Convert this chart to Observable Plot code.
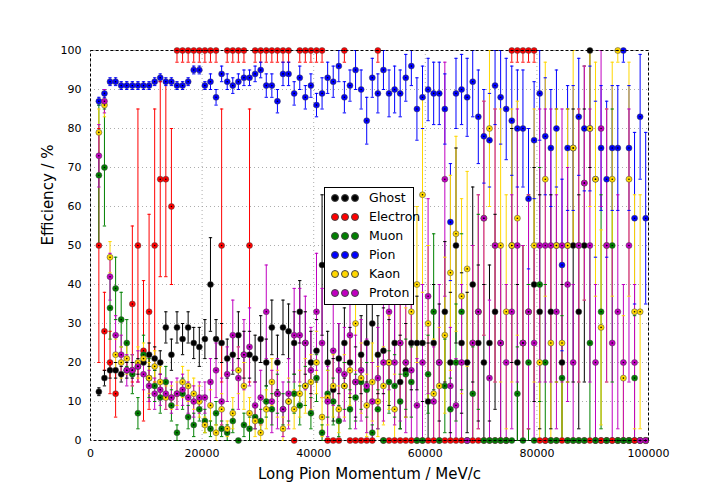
<!DOCTYPE html><html><head><meta charset="utf-8">
<script src="https://cdn.jsdelivr.net/npm/d3@7"></script>
<script src="https://cdn.jsdelivr.net/npm/@observablehq/plot@0.6"></script>
<style>body{margin:0;background:#fff;font-family:"DejaVu Sans",sans-serif}#w{position:relative;width:720px;height:504px}
#leg{position:absolute;left:324px;top:187px;width:88px;height:116px;border:1px solid #000;background:#fff;font-size:12.5px}
#leg div{height:19px;line-height:19px;display:flex;align-items:center}#leg span.d{flex:0 0 6px;display:inline-block;width:6px;height:6px;border-radius:50%;border:0.5px solid #444}
</style></head><body><div id="w"></div>
<script>
const binStart = 1500, binWidth = 1000;
const xTicks = [0,20000,40000,60000,80000,100000];
const yTicks = [0,10,20,30,40,50,60,70,80,90,100];
const seriesNames = ["Ghost","Electron","Muon","Pion","Kaon","Proton"];
const colors = ["#000000","#ff0000","#008000","#0000ff","#ffd700","#c000c0"];
const ghost = [12.5,16,18,18,17,18,18,19,20,22,21,20,29,22,29,26,29,25,24,26,40,26,25,21,22,27,22,22,21,26,20,29,20,29,28,25,33,25,20,23,45,20,13,21,25,20,15,22,25,30,22,23,20,25,15,18,25,25,25,10,25,20,33,20,50,25,20,40,25,20,25,33,25,0,50,20,25,33,40,33,0,33,50,20,50,50,33,50,100,0,0,0,0,0,0,0,0,0,0];
const ghostErr = [1,2,2,2,2,2,2,2,3,3,3,3,4,4,4,4,4,4,5,5,12,5,5,5,5,6,6,6,6,6,6,7,7,7,7,8,8,8,8,8,18,8,8,9,9,9,9,10,10,10,10,11,11,11,12,12,12,12,15,15,15,15,18,18,25,18,18,25,20,20,20,25,25,0,30,20,25,30,30,30,0,30,35,20,35,35,30,35,30,0,0,0,0,0,0,0,0,0,0];
const electron = [50,28,20,12,null,null,35,50,23,33,50,67,67,60,100,100,100,100,100,100,100,100,50,100,100,100,100,50,100,100,100,100,100,100,100,0,100,100,100,100,100,0,0,0,100,0,0,0,0,0,100,0,0,0,0,0,0,0,0,0,0,0,0,0,0,0,0,0,0,0,0,0,0,0,100,100,100,100,100,0,0,0,0,0,0,0,0,0,0,0,0,0,0,0,0,0,0,0,0];
const electronErr = [30,10,8,6,0,0,20,35,18,25,35,25,25,20,3,3,3,3,3,3,3,3,35,3,3,3,3,35,3,3,3,3,3,3,3,0,3,3,3,3,3,0,0,0,3,0,0,0,0,0,3,0,0,0,0,0,0,0,0,0,0,0,0,0,0,0,0,0,0,0,0,0,0,0,3,3,3,3,3,0,0,0,0,0,0,0,0,0,0,0,0,0,0,0,0,0,0,0,0];
const muon = [68,70,34,39,31,25,17,7,22,16,14,11,15,9,2,12,6,4,8,5,3,7,3,2,5,0,4,3,6,5,10,8,12,8,10,12,9,14,7,16,2,12,10,5,14,8,11,15,13,2,8,0,15,14,10,17,15,0,0,17,33,0,14,8,20,33,0,12,33,0,0,0,0,0,0,12,0,20,0,40,20,0,0,16,0,0,0,0,25,0,33,0,50,0,0,0,16,0,0];
const muonErr = [18,15,8,8,7,6,5,4,5,5,4,4,4,4,2,4,3,3,3,3,2,3,2,2,3,0,3,3,3,3,4,4,5,4,5,5,5,5,4,6,2,6,6,4,6,5,6,7,7,2,5,0,8,8,7,9,9,0,0,10,20,0,12,8,15,20,0,12,25,0,0,0,0,0,0,12,0,20,0,30,20,0,0,16,0,0,0,0,25,0,30,0,35,0,0,0,16,0,0];
const pion = [87,89,92,92,91,91,91,91,91,91,92,93,92,92,91,91,92,95,95,91,92,88,94,92,91,92,93,93,94,95,91,91,87,94,94,89,93,88,91,86,89,93,92,96,88,91,95,90,82,93,89,95,89,90,89,93,96,85,88,90,89,89,85,56,89,90,88,92,83,78,77,91,88,85,82,80,80,62,77,89,78,75,80,45,75,75,83,80,80,67,75,67,75,75,100,75,57,83,57];
const pionErr = [1,1,1,1,1,1,1,1,1,1,1,1,1,1,1,1,1,1,1,1,2,2,2,2,2,2,2,2,2,2,3,3,3,3,3,3,3,3,3,3,4,4,4,4,4,4,5,5,6,5,5,5,6,6,6,6,5,8,8,8,8,8,9,15,9,9,10,9,12,12,12,10,12,13,14,15,15,18,15,12,15,15,15,22,16,16,15,16,16,20,16,20,16,16,3,16,22,16,22];
const kaon = [79,86,47,22,20,21,18,20,21,16,19,15,11,11,12,15,14,12,10,4,9,2,8,3,7,18,14,7,5,2,8,15,12,3,10,8,12,14,15,20,6,11,14,8,14,18,30,16,9,15,10,14,20,8,25,20,33,40,63,30,12,14,27,43,53,37,44,25,33,57,80,50,50,33,50,57,25,33,50,20,67,25,50,25,50,75,50,66,80,67,29,50,67,100,16,67,33,33,0];
const kaonErr = [6,3,4,4,4,4,4,4,4,4,4,4,3,3,3,4,4,4,4,2,4,2,4,2,4,6,6,4,4,2,5,6,6,3,6,5,6,7,7,8,5,7,8,6,8,9,12,9,8,10,9,10,12,9,15,14,18,20,25,20,14,15,20,25,25,25,25,25,30,30,20,35,35,30,35,30,25,30,35,20,30,25,35,25,35,25,35,30,20,30,25,35,30,3,16,30,30,30,0];
const proton = [73,87,42,27,22,18,18,19,17,14,12,13,12,11,12,13,11,10,11,11,15,18,10,17,27,16,22,24,9,11,33,10,12,8,12,27,27,25,18,33,25,10,23,18,17,27,15,18,14,10,16,20,33,20,25,20,18,9,20,37,10,20,67,14,9,20,0,25,33,57,16,50,25,20,33,50,25,33,25,50,50,50,33,50,40,20,50,66,50,20,80,50,25,33,20,50,20,0,0];
const protonErr = [8,3,6,5,5,4,4,4,4,4,4,4,4,4,4,4,4,4,4,4,6,7,6,7,9,8,9,10,6,7,12,8,9,7,9,12,12,12,11,15,14,9,14,12,12,15,12,13,12,10,13,15,20,16,20,18,18,12,20,25,14,20,30,15,12,20,0,25,30,30,20,35,25,20,30,35,25,30,25,35,35,35,30,35,30,20,35,30,35,20,20,35,25,30,20,35,20,0,0];

const vals=[ghost,electron,muon,pion,kaon,proton], errs=[ghostErr,electronErr,muonErr,pionErr,kaonErr,protonErr];
const data=[];
vals.forEach((arr,s)=>arr.forEach((v,i)=>{ if(v==null) return; const x=binStart+binWidth*i; if(x>100000) return; const e=errs[s][i]||0;
 data.push({x,y:v,lo:Math.max(0,v-e),hi:Math.min(100,v+e),s:seriesNames[s]});}));
const capW=300;
const plot=Plot.plot({width:720,height:504,marginLeft:90,marginRight:72,marginTop:50,marginBottom:64,
 style:{fontFamily:"DejaVu Sans",fontSize:"11px",background:"#fff"},
 x:{domain:[0,100000],ticks:xTicks,tickFormat:d=>String(d),tickSize:0,label:null},
 y:{domain:[0,100],ticks:yTicks,tickSize:0,label:null},
 color:{domain:seriesNames,range:colors},
 marks:[
  Plot.gridX(xTicks,{stroke:"#999",strokeOpacity:0.8,strokeDasharray:"1,3"}),
  Plot.gridY(yTicks,{stroke:"#999",strokeOpacity:0.8,strokeDasharray:"1,3"}),
  Plot.ruleX(data,{x:"x",y1:"lo",y2:"hi",stroke:"s",strokeWidth:1}),
  Plot.link(data,{x1:d=>d.x-capW,x2:d=>d.x+capW,y1:"lo",y2:"lo",stroke:"s"}),
  Plot.link(data,{x1:d=>d.x-capW,x2:d=>d.x+capW,y1:"hi",y2:"hi",stroke:"s"}),
  Plot.dot(data,{x:"x",y:"y",fill:"s",r:3,stroke:"#444",strokeWidth:0.5}),
  Plot.dot(data,{x:"x",y:"y",fill:"#000",r:0.8}),
  Plot.frame({stroke:"#000",strokeDasharray:"3,2"}),
  Plot.text(["Long Pion Momentum / MeV/c"],{frameAnchor:"bottom",dy:38,fontSize:15,fill:"#000"}),
  Plot.text(["Efficiency / %"],{frameAnchor:"left",dx:-42,rotate:-90,fontSize:15,fill:"#000"})
 ]});
const w=document.getElementById("w");w.appendChild(plot);
const leg=document.createElement("div");leg.id="leg";
seriesNames.forEach((n,i)=>{const r=document.createElement("div");r.innerHTML=`<span class="d" style="background:${colors[i]};margin-left:6px"></span><span class="d" style="background:${colors[i]};margin-left:2px"></span><span class="d" style="background:${colors[i]};margin-left:2px"></span><span style="margin-left:10px">${n}</span>`;leg.appendChild(r);});
w.appendChild(leg);
</script></body></html>
